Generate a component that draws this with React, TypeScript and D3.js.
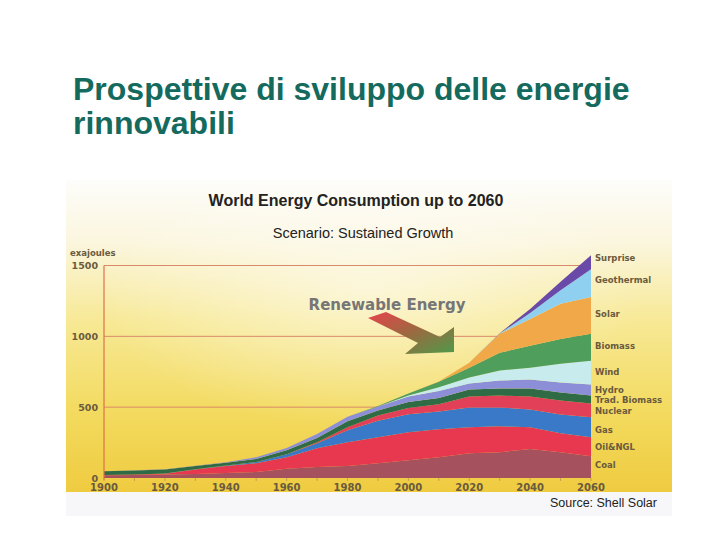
import React from "react";
import * as d3 from "d3";

const years = [1900, 1910, 1920, 1930, 1940, 1950, 1960, 1970, 1980, 1990, 2000, 2010, 2020, 2030, 2040, 2050, 2060];
const coal = [20, 22, 24, 28, 35, 42, 65, 77, 84, 105, 126, 147, 175, 182, 204, 182, 154];
const oil = [2, 3, 6, 32, 49, 63, 82, 133, 169, 183, 197, 197, 183, 183, 154, 134, 134];
const gas = [0, 0, 1, 2, 4, 8, 21, 36, 84, 117, 127, 126, 140, 133, 126, 133, 140];
const nuclear = [0, 0, 0, 0, 0, 0, 0, 6, 21, 37, 45, 50, 77, 84, 91, 98, 98];
const tradBiomass = [25, 28, 29, 22, 19, 22, 28, 30, 42, 35, 42, 45, 50, 50, 57, 57, 56];
const hydro = [1, 2, 2, 3, 5, 12, 16, 28, 32, 28, 38, 50, 42, 56, 63, 70, 78];
const wind = [0, 0, 0, 0, 0, 0, 0, 0, 0, 0, 7, 25, 42, 70, 84, 133, 168];
const biomass = [0, 0, 0, 0, 0, 0, 0, 0, 0, 3, 14, 40, 70, 126, 154, 175, 190];
const solar = [0, 0, 0, 0, 0, 0, 0, 0, 0, 0, 0, 2, 35, 134, 190, 248, 259];
const geothermal = [0, 0, 0, 0, 0, 0, 0, 0, 0, 0, 0, 0, 0, 2, 42, 95, 197];
const surprise = [0, 0, 0, 0, 0, 0, 0, 0, 0, 0, 0, 0, 0, 2, 28, 60, 98];

const seriesKeys = ["Coal", "Oil&NGL", "Gas", "Nuclear", "Trad. Biomass", "Hydro", "Wind", "Biomass", "Solar", "Geothermal", "Surprise"];
const seriesValues = [coal, oil, gas, nuclear, tradBiomass, hydro, wind, biomass, solar, geothermal, surprise];
const seriesColors = ["#a5525e", "#e8384f", "#3a78c8", "#e24058", "#2f6b45", "#8c8fd8", "#c8ecee", "#4f9e5c", "#f0a848", "#8fd0f0", "#6a4aa8"];

const labelNames = ["Surprise", "Geothermal", "Solar", "Biomass", "Wind", "Hydro", "Trad. Biomass", "Nuclear", "Gas", "Oil&NGL", "Coal"];
const labelY = [258, 280, 314, 346, 372, 390, 400, 411, 430, 447, 465];

const yTicks = [0, 500, 1000, 1500];
const xTicks = [1900, 1920, 1940, 1960, 1980, 2000, 2020, 2040, 2060];

export default function App() {
  const x = d3.scaleLinear().domain([1900, 2060]).range([104, 591]);
  const y = d3.scaleLinear().domain([0, 1500]).range([478, 265.5]);

  const table = years.map((yr, i) => {
    const row: any = { year: yr };
    seriesKeys.forEach((k, j) => (row[k] = seriesValues[j][i]));
    return row;
  });
  const stacked = d3.stack<any>().keys(seriesKeys)(table);
  const area = d3
    .area<any>()
    .x((d) => x(d.data.year))
    .y0((d) => y(d[0]))
    .y1((d) => y(d[1]))
    .curve(d3.curveLinear);

  const labelFont = "'DejaVu Sans', Verdana, sans-serif";
  const labelColor = "#6a5a3e";
  const arial = "Arial, 'Liberation Sans', sans-serif";

  return (
    <div style={{ position: "absolute", left: 0, top: 0 }}>
      <svg width={720} height={540} style={{ display: "block" }}>
        <defs>
          <linearGradient id="bg" x1="0" y1="0" x2="0" y2="1">
            <stop offset="0" stopColor="#fdfdfa" />
            <stop offset="0.2" stopColor="#fbf6de" />
            <stop offset="0.45" stopColor="#f7e996" />
            <stop offset="0.75" stopColor="#f3da5e" />
            <stop offset="1" stopColor="#efcb40" />
          </linearGradient>
          <radialGradient id="glow" cx="0.5" cy="0.35" r="0.45">
            <stop offset="0" stopColor="#ffffff" stopOpacity="0.5" />
            <stop offset="1" stopColor="#ffffff" stopOpacity="0" />
          </radialGradient>
          <linearGradient id="arrowGrad" x1="0" y1="0" x2="1" y2="1">
            <stop offset="0" stopColor="#e8444c" />
            <stop offset="0.5" stopColor="#9a6a40" />
            <stop offset="1" stopColor="#4e9a4a" />
          </linearGradient>
        </defs>
        <rect x={0} y={0} width={720} height={540} fill="#ffffff" />
        <text x={73} y={100} fontFamily={arial} fontWeight="bold" fontSize={32} fill="#156a5e">
          Prospettive di sviluppo delle energie
        </text>
        <text x={73} y={134} fontFamily={arial} fontWeight="bold" fontSize={32} fill="#156a5e">
          rinnovabili
        </text>

        <rect x={66} y={180} width={606} height={312} fill="url(#bg)" />
        <rect x={66} y={180} width={606} height={312} fill="url(#glow)" />
        <rect x={66} y={492} width={606} height={24} fill="#f7f7f9" />

        <text x={356} y={206} textAnchor="middle" fontFamily={arial} fontWeight="bold" fontSize={16} fill="#222">
          World Energy Consumption up to 2060
        </text>
        <text x={363} y={238} textAnchor="middle" fontFamily={arial} fontSize={14.5} fill="#222">
          Scenario: Sustained Growth
        </text>

        {yTicks.filter((t) => t > 0).map((t) => (
          <line key={t} x1={x(1900)} x2={x(2060)} y1={y(t)} y2={y(t)} stroke="#d98a6a" strokeWidth={1} />
        ))}

        {stacked.map((s, i) => (
          <path key={s.key} d={area(s) || ""} fill={seriesColors[i]} />
        ))}

        <line x1={x(1900)} x2={x(1900)} y1={y(1500)} y2={y(0) + 2} stroke="#e0704a" strokeWidth={1.2} />
        {years.map((yr) => (
          <line key={yr} x1={x(yr)} x2={x(yr)} y1={y(0)} y2={y(0) + 3} stroke="#c9a050" strokeWidth={1} />
        ))}

        {yTicks.map((t) => (
          <text key={t} x={98} y={y(t) + 3.5} textAnchor="end" fontFamily={labelFont} fontWeight="bold" fontSize={9.5} fill={labelColor}>
            {t}
          </text>
        ))}
        <text x={70} y={256} fontFamily={labelFont} fontWeight="bold" fontSize={8.5} fill={labelColor}>
          exajoules
        </text>
        {xTicks.map((t) => (
          <text key={t} x={x(t)} y={491} textAnchor="middle" fontFamily={labelFont} fontWeight="bold" fontSize={10} fill={labelColor}>
            {t}
          </text>
        ))}

        {labelNames.map((n, i) => (
          <text key={n} x={595} y={labelY[i] + 3} fontFamily={labelFont} fontWeight="bold" fontSize={8.5} fill={labelColor}>
            {n}
          </text>
        ))}

        <text x={387} y={310} textAnchor="middle" fontFamily={labelFont} fontWeight="bold" fontSize={15} fill="#767676">
          Renewable Energy
        </text>
        <polygon
          points="368,318 386,312 440,337 454,327 454,352 405,354 418,343"
          fill="url(#arrowGrad)"
        />

        <text x={657} y={507} textAnchor="end" fontFamily={arial} fontSize={12.5} fill="#222">
          Source: Shell Solar
        </text>
      </svg>
    </div>
  );
}
